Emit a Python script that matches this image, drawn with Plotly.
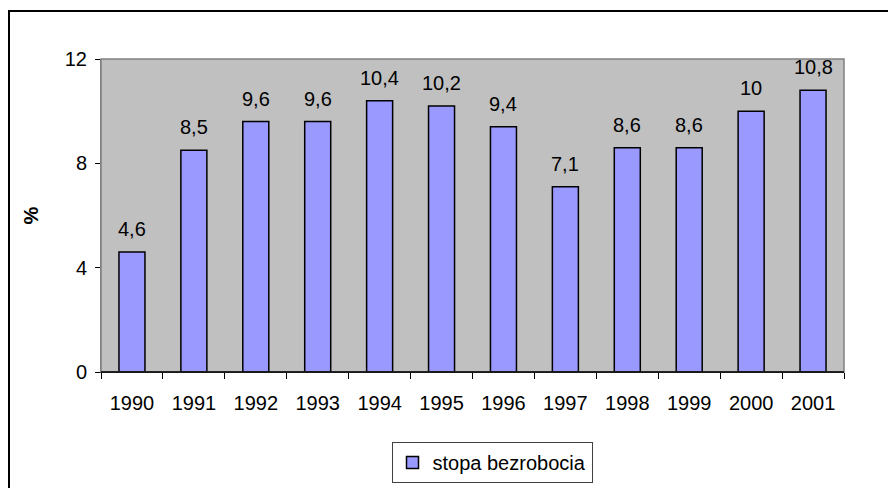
import plotly.graph_objects as go

years = ["1990", "1991", "1992", "1993", "1994", "1995", "1996", "1997", "1998", "1999", "2000", "2001"]
rate = [4.6, 8.5, 9.6, 9.6, 10.4, 10.2, 9.4, 7.1, 8.6, 8.6, 10.0, 10.8]
labels = ["4,6", "8,5", "9,6", "9,6", "10,4", "10,2", "9,4", "7,1", "8,6", "8,6", "10", "10,8"]
series_name = "stopa bezrobocia"
y_ticks = [0, 4, 8, 12]

OFF = 8  # page body margin
W, H = 896 - OFF, 488 - OFF
# plot area in page coords: x 101..844, y 59..372
L, T = 101 - OFF, 59 - OFF
R = W - (844 - OFF)
B = H - (372 - OFF)
pw, ph = W - L - R, H - T - B

def px(x):  # page x -> paper
    return (x - OFF - L) / pw

def py(y):  # page y -> paper
    return (H - B - (y - OFF)) / ph

FONT = "Liberation Sans, Arial"
FS = 20

fig = go.Figure()
fig.add_trace(go.Bar(
    x=years, y=rate, name=series_name,
    marker=dict(color="#9999FF", line=dict(color="black", width=1.5)),
    width=0.42,
))

annotations = [
    dict(x=i, y=v, text=lab, xref="x", yref="y", showarrow=False,
         yanchor="bottom", yshift=10, font=dict(family=FONT, size=FS, color="black"))
    for i, (v, lab) in enumerate(zip(rate, labels))
]

fig.update_layout(
    width=W, height=H,
    margin=dict(l=L, r=R, t=T, b=B, autoexpand=False),
    paper_bgcolor="white", plot_bgcolor="#C0C0C0",
    font=dict(family=FONT, size=FS, color="black"),
    showlegend=True,
    legend=dict(
        orientation="h", x=px(492), xanchor="center", y=py(442), yanchor="top",
        bordercolor="#404040", borderwidth=1, bgcolor="white",
        font=dict(size=FS), itemwidth=30,
    ),
    xaxis=dict(
        type="category", tickangle=0, range=[-0.5, len(years) - 0.5],
        showgrid=False, showline=True, linecolor="black", linewidth=1,
        ticks="outside", tickson="boundaries", ticklen=6, tickcolor="black",
        tickfont=dict(size=FS), ticklabelstandoff=13, automargin=False,
    ),
    yaxis=dict(
        range=[0, 12], tickvals=y_ticks, showgrid=False, zeroline=False,
        showline=True, linecolor="#808080", linewidth=1,
        ticks="outside", ticklen=5, tickcolor="black",
        tickfont=dict(size=FS), ticklabelstandoff=4, automargin=False,
        title=dict(text="<b>%</b>", font=dict(size=FS), standoff=20),
    ),
    annotations=annotations,
    shapes=[
        dict(type="rect", xref="paper", yref="paper", x0=0, x1=1, y0=0, y1=1,
             line=dict(color="#808080", width=1.5), layer="above"),
        dict(type="line", xref="paper", yref="paper", x0=0, x1=1, y0=0, y1=0,
             line=dict(color="black", width=1.5), layer="above"),
        dict(type="line", xref="paper", yref="paper", x0=px(0), x1=px(900), y0=py(11), y1=py(11),
             line=dict(color="black", width=2)),
        dict(type="line", xref="paper", yref="paper", x0=px(9), x1=px(9), y0=py(11), y1=py(490),
             line=dict(color="black", width=2)),
    ],
)

fig.write_html("out.html")
